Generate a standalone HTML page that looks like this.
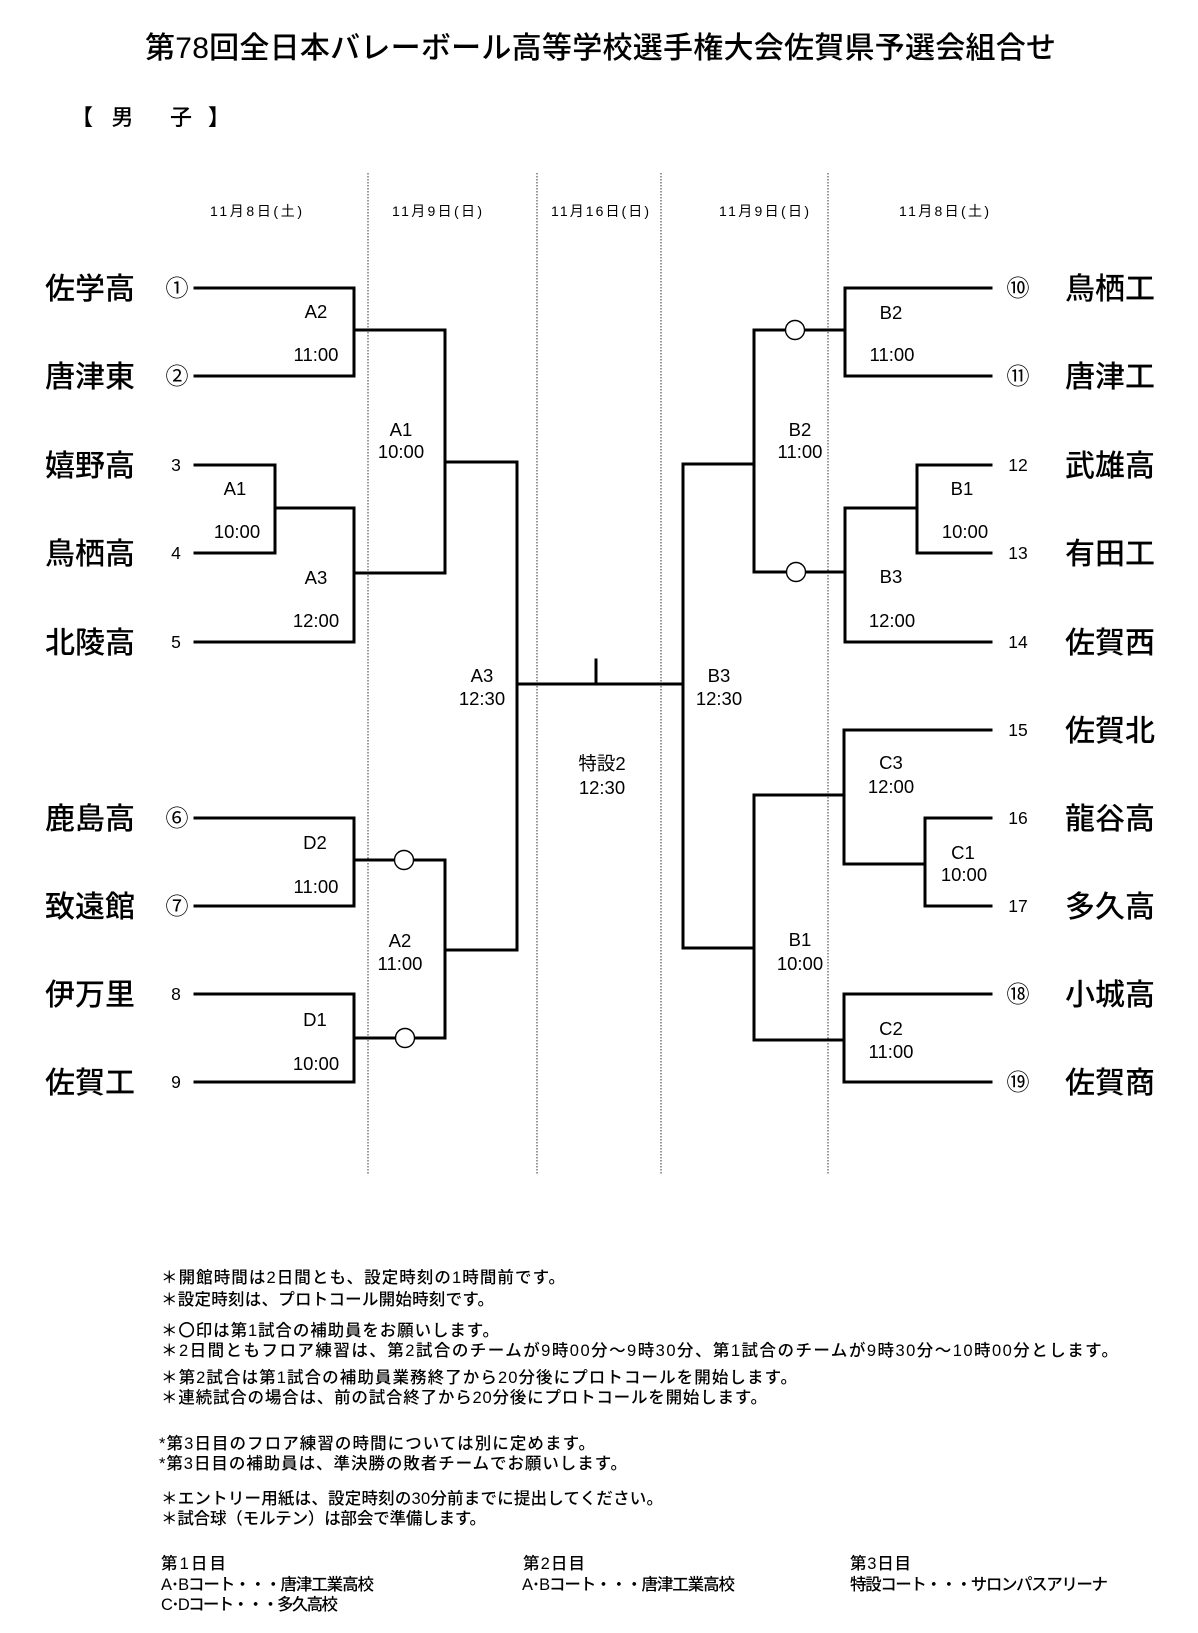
<!DOCTYPE html>
<html lang="ja">
<head>
<meta charset="utf-8">
<style>
html,body{margin:0;padding:0;background:#fff;}
svg{display:block;}
text{fill:#000;}
.jp{font-family:"Liberation Sans","Noto Sans CJK JP",sans-serif;}
.lb{font-family:"Liberation Sans","Noto Sans CJK JP",sans-serif;font-size:18.5px;}
.tm{font-family:"Noto Sans CJK JP","Liberation Sans",sans-serif;font-size:30px;font-weight:500;}
.cn{font-family:"Noto Sans CJK JP","DejaVu Sans",sans-serif;font-size:23px;}
.sn{font-family:"Liberation Sans",sans-serif;font-size:17.5px;}
.dt{font-family:"Liberation Sans","Noto Sans CJK JP",sans-serif;font-size:14px;}
.nt{font-family:"Liberation Sans","Noto Sans CJK JP",sans-serif;font-size:16.5px;font-weight:500;}
</style>
</head>
<body>
<svg width="1198" height="1633" viewBox="0 0 1198 1633" xmlns="http://www.w3.org/2000/svg">
<rect width="1198" height="1633" fill="#fff"/>

<!-- Title -->
<text class="jp" x="145" y="58" font-size="30" font-weight="500" textLength="911" lengthAdjust="spacing">第78回全日本バレーボール高等学校選手権大会佐賀県予選会組合せ</text>

<!-- 【男子】 -->
<text class="jp" x="71" y="125" font-size="22" font-weight="bold">【</text>
<text class="jp" x="122.5" y="125" font-size="22" font-weight="500" text-anchor="middle">男</text>
<text class="jp" x="181" y="125" font-size="22" font-weight="500" text-anchor="middle">子</text>
<text class="jp" x="208" y="125" font-size="22" font-weight="bold">】</text>

<!-- Date headers -->
<text class="dt" x="210" y="216" textLength="92" lengthAdjust="spacing">11月8日(土)</text>
<text class="dt" x="392" y="216" textLength="90" lengthAdjust="spacing">11月9日(日)</text>
<text class="dt" x="551" y="216" textLength="98" lengthAdjust="spacing">11月16日(日)</text>
<text class="dt" x="719" y="216" textLength="90" lengthAdjust="spacing">11月9日(日)</text>
<text class="dt" x="899" y="216" textLength="90" lengthAdjust="spacing">11月8日(土)</text>

<!-- Dotted separators -->
<g stroke="#555" stroke-width="1.2" stroke-dasharray="1.5 1.5" fill="none">
<line x1="368" y1="173" x2="368" y2="1175"/>
<line x1="537" y1="173" x2="537" y2="1175"/>
<line x1="661" y1="173" x2="661" y2="1175"/>
<line x1="828" y1="173" x2="828" y2="1175"/>
</g>

<!-- Bracket lines -->
<g stroke="#000" stroke-width="3" fill="none" stroke-linejoin="miter" stroke-linecap="square">
<!-- Left top -->
<polyline points="195,288 354,288 354,376 195,376"/>
<line x1="354" y1="330" x2="445" y2="330"/>
<polyline points="195,465 275,465 275,553 195,553"/>
<line x1="275" y1="508" x2="354" y2="508"/>
<polyline points="195,642 354,642 354,508"/>
<line x1="354" y1="573" x2="445" y2="573"/>
<line x1="445" y1="330" x2="445" y2="573"/>
<line x1="445" y1="462" x2="517" y2="462"/>
<!-- Left bottom -->
<polyline points="195,818 354,818 354,906 195,906"/>
<line x1="354" y1="860" x2="445" y2="860"/>
<polyline points="195,994 354,994 354,1082 195,1082"/>
<line x1="354" y1="1038" x2="445" y2="1038"/>
<line x1="445" y1="860" x2="445" y2="1038"/>
<line x1="445" y1="950" x2="517" y2="950"/>
<line x1="517" y1="462" x2="517" y2="950"/>
<!-- Final -->
<line x1="517" y1="684" x2="683" y2="684"/>
<line x1="596" y1="660" x2="596" y2="684"/>
<!-- Right top -->
<polyline points="991,288 845,288 845,376 991,376"/>
<line x1="845" y1="330" x2="754" y2="330"/>
<polyline points="991,465 917,465 917,553 991,553"/>
<line x1="917" y1="508" x2="845" y2="508"/>
<polyline points="991,642 845,642 845,508"/>
<line x1="845" y1="572" x2="754" y2="572"/>
<line x1="754" y1="330" x2="754" y2="572"/>
<line x1="754" y1="464" x2="683" y2="464"/>
<!-- Right bottom -->
<polyline points="991,730 844,730 844,864"/>
<polyline points="991,818 925,818 925,906 991,906"/>
<line x1="925" y1="864" x2="844" y2="864"/>
<line x1="844" y1="795" x2="754" y2="795"/>
<polyline points="991,994 844,994 844,1082 991,1082"/>
<line x1="844" y1="1040" x2="754" y2="1040"/>
<line x1="754" y1="795" x2="754" y2="1040"/>
<line x1="754" y1="948" x2="683" y2="948"/>
<line x1="683" y1="464" x2="683" y2="948"/>
</g>

<!-- Circles -->
<g stroke="#000" stroke-width="1.4" fill="#fff">
<circle cx="404" cy="860" r="9.5"/>
<circle cx="405" cy="1038" r="9.5"/>
<circle cx="795" cy="330" r="9.5"/>
<circle cx="796" cy="572" r="9.5"/>
</g>

<!-- Match labels -->
<g class="lb" text-anchor="middle">
<text x="316" y="318">A2</text><text x="316" y="361">11:00</text>
<text x="235" y="495">A1</text><text x="237" y="538">10:00</text>
<text x="316" y="584">A3</text><text x="316" y="627">12:00</text>
<text x="401" y="436">A1</text><text x="401" y="458">10:00</text>
<text x="315" y="849">D2</text><text x="316" y="893">11:00</text>
<text x="315" y="1026">D1</text><text x="316" y="1070">10:00</text>
<text x="400" y="947">A2</text><text x="400" y="970">11:00</text>
<text x="482" y="682">A3</text><text x="482" y="705">12:30</text>
<text x="602" y="770">特設2</text><text x="602" y="794">12:30</text>
<text x="719" y="682">B3</text><text x="719" y="705">12:30</text>
<text x="891" y="319">B2</text><text x="892" y="361">11:00</text>
<text x="800" y="436">B2</text><text x="800" y="458">11:00</text>
<text x="962" y="495">B1</text><text x="965" y="538">10:00</text>
<text x="891" y="583">B3</text><text x="892" y="627">12:00</text>
<text x="891" y="769">C3</text><text x="891" y="793">12:00</text>
<text x="963" y="859">C1</text><text x="964" y="881">10:00</text>
<text x="800" y="946">B1</text><text x="800" y="970">10:00</text>
<text x="891" y="1035">C2</text><text x="891" y="1058">11:00</text>
</g>

<!-- Left team names -->
<g class="tm">
<text x="45" y="299" textLength="90" lengthAdjust="spacing">佐学高</text>
<text x="45" y="387" textLength="90" lengthAdjust="spacing">唐津東</text>
<text x="45" y="476" textLength="90" lengthAdjust="spacing">嬉野高</text>
<text x="45" y="564" textLength="90" lengthAdjust="spacing">鳥栖高</text>
<text x="45" y="653" textLength="90" lengthAdjust="spacing">北陵高</text>
<text x="45" y="829" textLength="90" lengthAdjust="spacing">鹿島高</text>
<text x="45" y="917" textLength="90" lengthAdjust="spacing">致遠館</text>
<text x="45" y="1005" textLength="90" lengthAdjust="spacing">伊万里</text>
<text x="45" y="1093" textLength="90" lengthAdjust="spacing">佐賀工</text>
</g>
<!-- Left seeds -->
<g text-anchor="middle">
<text class="cn" x="177" y="296">①</text>
<text class="cn" x="177" y="384">②</text>
<text class="sn" x="176" y="471">3</text>
<text class="sn" x="176" y="559">4</text>
<text class="sn" x="176" y="648">5</text>
<text class="cn" x="177" y="826">⑥</text>
<text class="cn" x="177" y="914">⑦</text>
<text class="sn" x="176" y="1000">8</text>
<text class="sn" x="176" y="1088">9</text>
</g>

<!-- Right team names -->
<g class="tm">
<text x="1065" y="299" textLength="90" lengthAdjust="spacing">鳥栖工</text>
<text x="1065" y="387" textLength="90" lengthAdjust="spacing">唐津工</text>
<text x="1065" y="476" textLength="90" lengthAdjust="spacing">武雄高</text>
<text x="1065" y="564" textLength="90" lengthAdjust="spacing">有田工</text>
<text x="1065" y="653" textLength="90" lengthAdjust="spacing">佐賀西</text>
<text x="1065" y="741" textLength="90" lengthAdjust="spacing">佐賀北</text>
<text x="1065" y="829" textLength="90" lengthAdjust="spacing">龍谷高</text>
<text x="1065" y="917" textLength="90" lengthAdjust="spacing">多久高</text>
<text x="1065" y="1005" textLength="90" lengthAdjust="spacing">小城高</text>
<text x="1065" y="1093" textLength="90" lengthAdjust="spacing">佐賀商</text>
</g>
<!-- Right seeds -->
<g text-anchor="middle">
<text class="cn" x="1018" y="296">⑩</text>
<text class="cn" x="1018" y="384">⑪</text>
<text class="sn" x="1018" y="471">12</text>
<text class="sn" x="1018" y="559">13</text>
<text class="sn" x="1018" y="648">14</text>
<text class="sn" x="1018" y="736">15</text>
<text class="sn" x="1018" y="824">16</text>
<text class="sn" x="1018" y="912">17</text>
<text class="cn" x="1018" y="1002">⑱</text>
<text class="cn" x="1018" y="1090">⑲</text>
</g>

<!-- Notes -->
<g class="nt">
<text x="161" y="1283" textLength="404" lengthAdjust="spacing">＊開館時間は2日間とも、設定時刻の1時間前です。</text>
<text x="161" y="1305" textLength="333" lengthAdjust="spacing">＊設定時刻は、プロトコール開始時刻です。</text>
<text x="161" y="1336" textLength="338" lengthAdjust="spacing">＊〇印は第1試合の補助員をお願いします。</text>
<text x="161" y="1356" textLength="957" lengthAdjust="spacing">＊2日間ともフロア練習は、第2試合のチームが9時00分～9時30分、第1試合のチームが9時30分～10時00分とします。</text>
<text x="161" y="1383" textLength="636" lengthAdjust="spacing">＊第2試合は第1試合の補助員業務終了から20分後にプロトコールを開始します。</text>
<text x="161" y="1403" textLength="606" lengthAdjust="spacing">＊連続試合の場合は、前の試合終了から20分後にプロトコールを開始します。</text>
<text x="159" y="1449" textLength="436" lengthAdjust="spacing">*第3日目のフロア練習の時間については別に定めます。</text>
<text x="159" y="1469" textLength="468" lengthAdjust="spacing">*第3日目の補助員は、準決勝の敗者チームでお願いします。</text>
<text x="161" y="1504" textLength="502" lengthAdjust="spacing">＊エントリー用紙は、設定時刻の30分前までに提出してください。</text>
<text x="161" y="1524" textLength="325" lengthAdjust="spacing">＊試合球（モルテン）は部会で準備します。</text>

<text x="161" y="1569" textLength="65" lengthAdjust="spacing">第1日目</text>
<text x="161" y="1590" textLength="213" lengthAdjust="spacing">A･Bコート・・・唐津工業高校</text>
<text x="161" y="1610" textLength="177" lengthAdjust="spacing">C･Dコート・・・多久高校</text>

<text x="523" y="1569" textLength="62" lengthAdjust="spacing">第2日目</text>
<text x="522" y="1590" textLength="213" lengthAdjust="spacing">A･Bコート・・・唐津工業高校</text>

<text x="850" y="1569" textLength="61" lengthAdjust="spacing">第3日目</text>
<text x="850" y="1590" textLength="258" lengthAdjust="spacing">特設コート・・・サロンパスアリーナ</text>
</g>
</svg>
</body>
</html>
